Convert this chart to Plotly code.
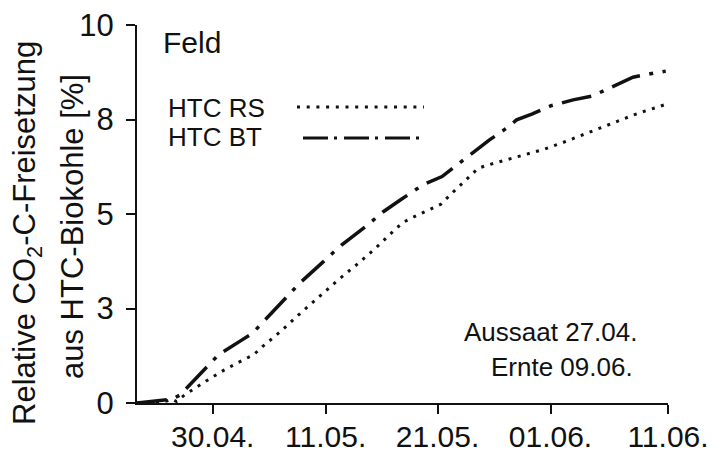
import plotly.graph_objects as go

# Days since axis origin (x axis is a day count with evenly spaced date ticks)
rs_days = [0, 1.2, 2.0, 2.6, 3.1, 3.5, 4.2, 6.0, 7.7, 9.4, 10.3, 11.1, 12.7, 14.3, 16.0, 17.7,
           19.4, 21.1, 22.7, 23.5, 24.4, 26.1, 26.9, 27.7, 29.4, 30.2, 31.1, 32.7, 34.3,
           36.0, 37.7, 39.4, 41.1, 42.7, 44.3, 46.0, 46.9]
rs_vals = [0, 0.01, 0.03, 0.05, 0.10, 0.04, 0.21, 0.56, 0.87, 1.14, 1.27, 1.49, 1.89, 2.33, 2.79, 3.23,
           3.65, 4.09, 4.55, 4.77, 4.91, 5.15, 5.26, 5.50, 5.97, 6.21, 6.30, 6.43, 6.56,
           6.71, 6.89, 7.09, 7.28, 7.47, 7.66, 7.82, 7.91]

bt_days = [0, 1.2, 2.3, 3.1, 3.8, 5.75, 6.5, 7.2, 9.3, 10.2, 10.9, 12.8, 14.4, 16.5, 18.1,
           20.2, 21.8, 23.3, 25.3, 27.0, 28.3, 29.2, 31.2, 32.8, 33.6, 35.0, 36.6, 38.6,
           40.3, 42.1, 43.9, 46.0, 46.8]
bt_vals = [0, 0.03, 0.07, 0.10, 0.21, 0.83, 1.07, 1.27, 1.67, 1.84, 2.06, 2.68, 3.17, 3.74, 4.18,
           4.66, 5.06, 5.37, 5.77, 5.99, 6.30, 6.50, 6.96, 7.29, 7.49, 7.65, 7.86, 8.02,
           8.12, 8.37, 8.62, 8.74, 8.78]

x_tick_pos = [6.7, 16.7, 26.6, 36.6, 47]
x_tick_text = ["30.04.", "11.05.", "21.05.", "01.06.", "11.06."]
y_tick_pos = [0, 2.5, 5, 7.5, 10]
y_tick_text = ["0", "3", "5", "8", "10"]

series_names = ["HTC RS", "HTC BT"]

FONT = "Liberation Sans, Arial, sans-serif"
INK = "#111111"

fig = go.Figure()
fig.add_trace(go.Scatter(x=rs_days, y=rs_vals, mode="lines", name=series_names[0],
                         line=dict(color=INK, width=3, dash="3px,6.5px")))
fig.add_trace(go.Scatter(x=bt_days, y=bt_vals, mode="lines", name=series_names[1],
                         line=dict(color=INK, width=3.5, dash="30px,9.5px,4px,9.5px")))

W, H = 714, 452
L, R, T, B = 137, 46, 25, 49
pw, ph = W - L - R, H - T - B

def px(xp):
    return (xp - L) / pw

def py(yp):
    return (H - B - yp) / ph

fig.update_layout(
    width=W, height=H,
    margin=dict(l=L, r=R, t=T, b=B, autoexpand=False),
    paper_bgcolor="white", plot_bgcolor="white",
    showlegend=False,
    font=dict(family=FONT, color=INK),
    xaxis=dict(range=[0, 47], tickmode="array", tickvals=x_tick_pos, ticktext=x_tick_text,
               showline=True, linecolor=INK, linewidth=2, ticks="outside", ticklen=9,
               tickwidth=2, tickcolor=INK, showgrid=False, zeroline=False, automargin=False,
               tickfont=dict(size=30, family=FONT, color=INK), ticklabelstandoff=-3),
    yaxis=dict(range=[0, 10], tickmode="array", tickvals=y_tick_pos, ticktext=y_tick_text,
               showline=True, linecolor=INK, linewidth=2, ticks="outside", ticklen=9,
               tickwidth=2, tickcolor=INK, showgrid=False, zeroline=False, automargin=False,
               tickfont=dict(size=31, family=FONT, color=INK), ticklabelstandoff=6),
)

ann = []
ann.append(dict(text="Feld", x=px(161), y=py(42), xanchor="left", yanchor="middle",
                font=dict(size=30)))
ann.append(dict(text=series_names[0], x=px(166), y=py(107.5), xanchor="left", yanchor="middle",
                font=dict(size=26)))
ann.append(dict(text=series_names[1], x=px(166), y=py(137), xanchor="left", yanchor="middle",
                font=dict(size=26)))
ann.append(dict(text="Aussaat 27.04.", x=px(639), y=py(332), xanchor="right", yanchor="middle",
                font=dict(size=26)))
ann.append(dict(text="Ernte 09.06.", x=px(635), y=py(367), xanchor="right", yanchor="middle",
                font=dict(size=26)))
ann.append(dict(text="Relative CO<sub>2</sub>-C-Freisetzung", x=px(27), y=py(233),
                xanchor="center", yanchor="middle", textangle=-90, font=dict(size=31)))
ann.append(dict(text="aus HTC-Biokohle [%]", x=px(72), y=py(227),
                xanchor="center", yanchor="middle", textangle=-90, font=dict(size=31)))
for a in ann:
    a.update(xref="paper", yref="paper", showarrow=False)
    a["font"].update(family=FONT, color=INK)
fig.update_layout(annotations=ann)

shapes = [
    dict(type="line", xref="paper", yref="paper", x0=px(297), x1=px(424), y0=py(107), y1=py(107),
         line=dict(color=INK, width=3, dash="3px,6.7px")),
    dict(type="line", xref="paper", yref="paper", x0=px(303), x1=px(424), y0=py(138), y1=py(138),
         line=dict(color=INK, width=3, dash="25px,6px,3px,7px")),
]
fig.update_layout(shapes=shapes)

fig.write_html("out.html")
